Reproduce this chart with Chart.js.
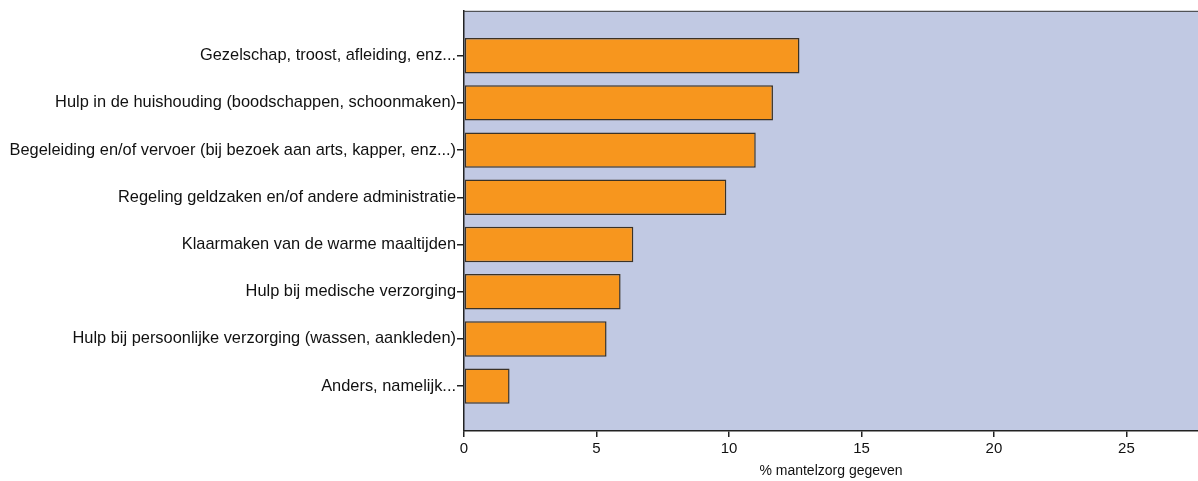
<!DOCTYPE html>
<html>
<head>
<meta charset="utf-8">
<script src="https://cdn.jsdelivr.net/npm/chart.js@4"></script>
<style>
html,body{margin:0;padding:0;background:#fff;}
#wrap{width:1198px;height:481px;position:relative;}
</style>
</head>
<body>
<div id="wrap"><canvas id="c" width="1198" height="481"></canvas></div>
<script>
const categories = [
  "Gezelschap, troost, afleiding, enz...",
  "Hulp in de huishouding (boodschappen, schoonmaken)",
  "Begeleiding en/of vervoer (bij bezoek aan arts, kapper, enz...)",
  "Regeling geldzaken en/of andere administratie",
  "Klaarmaken van de warme maaltijden",
  "Hulp bij medische verzorging",
  "Hulp bij persoonlijke verzorging (wassen, aankleden)",
  "Anders, namelijk..."
];
const values = [12.66, 11.66, 11.01, 9.90, 6.39, 5.91, 5.38, 1.72];
const xTicks = [0, 5, 10, 15, 20, 25];
const xTitle = "% mantelzorg gegeven";

const points = values.map((v, i) => ({x: v, y: i}));

const frame = {
  id: 'frame',
  beforeDraw(chart) {
    const {ctx, chartArea: a} = chart;
    ctx.save();
    ctx.fillStyle = '#C1C9E3';
    ctx.fillRect(a.left, a.top, a.right - a.left, a.bottom - a.top);
    ctx.restore();
  },
  afterDraw(chart) {
    const {ctx, chartArea: a} = chart;
    ctx.save();
    ctx.strokeStyle = '#3a3a3a';
    ctx.lineWidth = 1;
    ctx.beginPath();
    ctx.moveTo(a.left, a.top + 0.5);
    ctx.lineTo(a.right, a.top + 0.5);
    ctx.stroke();
    ctx.restore();
  }
};

new Chart(document.getElementById('c'), {
  type: 'bar',
  data: {
    datasets: [{
      data: points,
      backgroundColor: '#F7961E',
      borderColor: '#3b3226',
      borderWidth: 1.5,
      borderSkipped: false,
      barPercentage: 0.75,
      categoryPercentage: 1
    }]
  },
  plugins: [frame],
  options: {
    indexAxis: 'y',
    responsive: false,
    animation: false,
    layout: {padding: {top: 10, right: 0, left: 0, bottom: 0}},
    plugins: {legend: {display: false}, tooltip: {enabled: false}},
    scales: {
      y: {
        type: 'linear',
        reverse: true,
        offset: false,
        min: -0.95,
        max: 7.95,
        afterBuildTicks(scale) {
          scale.ticks = categories.map((c, i) => ({value: i}));
        },
        afterFit(scale) { scale.width = 464; },
        ticks: {
          callback: (v) => categories[v] !== undefined ? categories[v] : '',
          color: '#111',
          font: {family: 'Liberation Sans', size: 16.4},
          padding: 1,
          autoSkip: false
        },
        grid: {drawOnChartArea: false, offset: false, tickLength: 7, color: '#222', lineWidth: 1.5},
        border: {color: '#222', width: 1.5}
      },
      x: {
        type: 'linear',
        min: 0,
        max: 27.7,
        afterBuildTicks(scale) {
          scale.ticks = xTicks.map(v => ({value: v}));
        },
        afterFit(scale) { scale.height = 50; },
        ticks: {
          color: '#111',
          font: {family: 'Liberation Sans', size: 15},
          padding: 3
        },
        grid: {drawOnChartArea: false, tickLength: 6, color: '#222', lineWidth: 1.5},
        border: {color: '#222', width: 1.5},
        title: {
          display: true,
          text: xTitle,
          color: '#111',
          font: {family: 'Liberation Sans', size: 14},
          padding: {top: 2, bottom: 1}
        }
      }
    }
  }
});
</script>
</body>
</html>
